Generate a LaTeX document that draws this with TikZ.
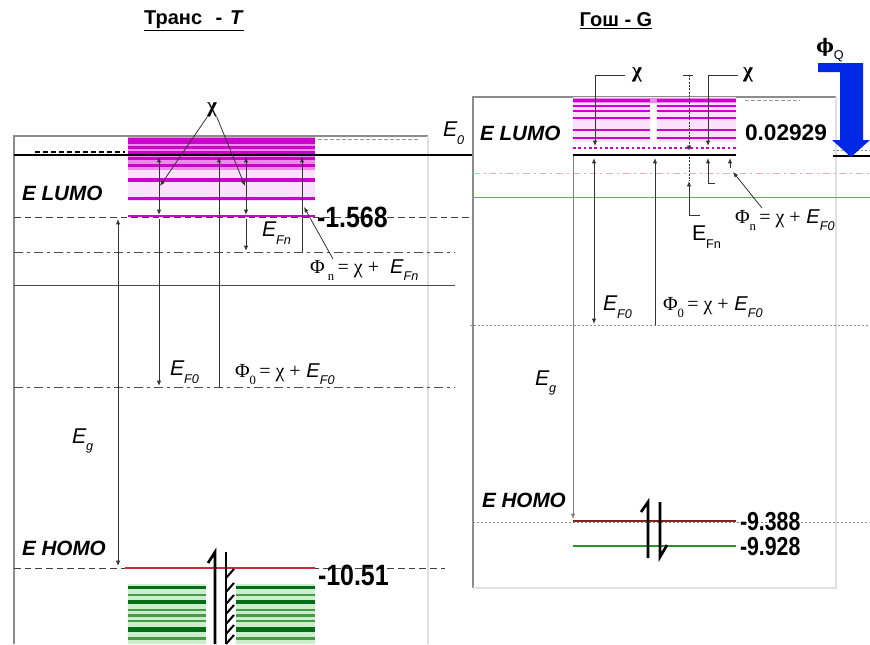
\documentclass[tikz,border=0pt]{standalone}
\usepackage{fontspec}
\setmainfont{Liberation Sans}
\newfontfamily\serf{Liberation Serif}
\newfontfamily\dvs{DejaVu Serif}
\usepackage{graphicx}
\usetikzlibrary{arrows.meta}
\definecolor{mag}{RGB}{205,0,205}
\definecolor{lmag}{RGB}{235,140,235}
\definecolor{pmag}{RGB}{252,225,252}
\definecolor{dgreen}{RGB}{0,110,20}
\definecolor{mgreen}{RGB}{70,155,70}
\definecolor{lgreen}{RGB}{205,238,205}
\definecolor{hred}{RGB}{205,40,60}
\definecolor{dred}{RGB}{130,35,30}
\definecolor{hgreen}{RGB}{40,150,40}
\definecolor{qblue}{RGB}{0,40,230}
\definecolor{pinkl}{RGB}{235,170,180}
\definecolor{salmon}{RGB}{205,120,90}
\newcommand\sbs[1]{\raisebox{-0.35em}{\fontsize{9.5}{9.5}\selectfont #1}}
\newcommand\narL[1]{\scalebox{0.85}[1]{\fontsize{22}{22}\selectfont\bfseries #1}}
\newcommand\narR[1]{\scalebox{0.82}[1]{\fontsize{19.5}{19.5}\selectfont\bfseries #1}}
\begin{document}
\begin{tikzpicture}[x=0.75pt,y=-0.75pt,
  every node/.style={inner sep=0pt, outer sep=0pt},
  ln/.style={line width=0.6pt, draw=black!80},
  ar/.style={ln, -{Latex[length=4pt,width=3.2pt]}},
  arr/.style={ln, {Latex[length=4pt,width=3.2pt]}-{Latex[length=4pt,width=3.2pt]}},
  e0line/.style={line width=2.2pt, black},
  dashln/.style={line width=0.6pt, black!75, dash pattern=on 5pt off 3pt},
  dashdot/.style={line width=0.6pt, black!70, dash pattern=on 7pt off 3pt on 2pt off 3pt},
  dotln/.style={line width=0.6pt, black!45, dash pattern=on 1.5pt off 1.5pt},
  border/.style={line width=1.5pt, black!45},
  faint/.style={line width=0.8pt, black!12},
  elec/.style={line width=2pt, black},
  lvl/.style={font=\fontsize{15.5}{15.5}\selectfont\bfseries\itshape, anchor=west},
  eq/.style={font=\fontsize{15}{15}\selectfont, anchor=west},
  ttl/.style={font=\fontsize{15}{15}\selectfont\bfseries},
  chi/.style={font=\fontsize{16}{16}\selectfont\serf\bfseries}
]
\useasboundingbox (0,0) rectangle (870,644);

% ---------------- titles
\node[ttl] (titleT) at (194,21) {\underline{Транс\hspace{10pt}-\hspace{6pt}\textit{T}}};
\node[ttl] (titleG) at (616,21) {\underline{Гош - G}};

% ---------------- left panel frame and levels
\draw[border] (14,644) -- (14,136) -- (428,136);
\draw[faint] (428,136) -- (428,644);
\fill[pmag] (128,137) rectangle (315,201);
\fill[lmag] (128,137) rectangle (315,170);
\foreach \a/\b in {138/144,146/149,151/154,157/160,164/167,178/182,197/200}
  \fill[mag] (128,\a) rectangle (315,\b);
\draw[e0line] (14,155) -- (473,155);
\draw[line width=0.8pt, black, dash pattern=on 4pt off 2pt] (35,152) -- (125,152);
\draw[line width=0.6pt, black!40, dash pattern=on 3pt off 1.5pt] (318,139) -- (420,139);
\draw[dashln] (14,217) -- (472,217);
\draw[line width=1.5pt, mag] (128,216) -- (315,216);
\draw[dashdot] (14,252) -- (455,252);
\draw[line width=0.6pt, black!70] (14,285) -- (455,285);
\draw[dashdot] (14,387) -- (455,387);
\draw[dashln] (14,568) -- (445,568);
\fill[lgreen] (128,584) rectangle (206,644);
\fill[lgreen] (236,584) rectangle (315,644);
\foreach \a/\b/\c in {586/589/dgreen,594/596/mgreen,600/604/dgreen,609/611/mgreen,614/617/mgreen,620/622/mgreen,627/632/dgreen,637/640/mgreen}{
  \fill[\c] (128,\a) rectangle (206,\b);
  \fill[\c] (236,\a) rectangle (315,\b);
}
\draw[line width=1.2pt, hred] (125,568) -- (315,568);

% electrons left
\draw[elec] (208,563) -- (215,552) -- (215,644);
\draw[elec] (226,552) -- (226,644);
\foreach \y in {578,592,604,614,624,634,644}
  \draw[line width=1.5pt] (226,\y) -- (234,\y-9);

% ---------------- left arrows
\coordinate (L1t) at (159,157); \coordinate (L1b) at (159,215);
\coordinate (L2t) at (159,219); \coordinate (L2b) at (159,386);
\coordinate (L3t) at (219,157); \coordinate (L3b) at (219,387);
\coordinate (L4t) at (246,157); \coordinate (L4b) at (246,215);
\coordinate (L5t) at (246,219); \coordinate (L5b) at (246,251);
\coordinate (L6t) at (302,157); \coordinate (L6b) at (302,252);
\coordinate (L7t) at (118,219); \coordinate (L7b) at (118,566);
\coordinate (cA) at (160,186); \coordinate (cB) at (245,186);
\coordinate (pn1) at (333,259); \coordinate (pn2) at (304,207);
\draw[arr] (L1t) -- (L1b);
\draw[ar] (L2t) -- (L2b);
\draw[ar] (L3b) -- (L3t);
\draw[arr] (L4t) -- (L4b);
\draw[ar] (L5t) -- (L5b);
\draw[ar] (L6b) -- (L6t);
\draw[arr] (L7t) -- (L7b);
\draw[ar] (pn1) -- (pn2);

% left texts
\node[chi] (chiL) at (212,110) {χ};
\draw[ar] (chiL.south west) -- (cA);
\draw[ar] (chiL.south east) -- (cB);
\node[font=\fontsize{16}{16}\selectfont\itshape, anchor=west] (E0) at (443,133) {E\sbs{0}};
\node[lvl] (LUMOL) at (22,193) {E LUMO};
\node[anchor=west] (n1568) at (317,217) {\narL{-1.568}};
\node[eq, font=\fontsize{16}{16}\selectfont\itshape] (EFnL) at (262,233) {E\sbs{Fn}};
\node[eq] (phinL) at (310,270) {{\serf Φ}\,\sbs{\serf n}\,{\serf = χ +}\ \ \textit{E}\sbs{\itshape Fn}};
\node[eq, font=\fontsize{16}{16}\selectfont\itshape] (EF0L) at (170,372) {E\sbs{F0}};
\node[eq] (phi0L) at (235,374) {{\serf Φ}\sbs{\serf 0}{\serf\,= χ +} \textit{E}\sbs{\itshape F0}};
\node[eq, font=\fontsize{16}{16}\selectfont\itshape] (EgL) at (72,441) {E\sbs{g}};
\node[lvl] (HOMOL) at (22,548) {E HOMO};
\node[anchor=west] (n1051) at (318,575) {\narL{-10.51}};

% ---------------- right panel frame and levels
\draw[border] (473,588) -- (473,97) -- (836,97);
\draw[faint] (836,97) -- (836,588) -- (473,588);
\draw[line width=0.6pt, black!40, dash pattern=on 3pt off 1.5pt] (745,100) -- (800,100);
\fill[pmag] (573,97) rectangle (736,142);
\fill[white] (650,104) rectangle (657,142);
\fill[lmag] (573,98) rectangle (736,103);
\foreach \a/\b in {99/102,105/107,110/112,117/119,129/131,137/139}{
  \fill[mag] (573,\a) rectangle (650,\b);
  \fill[mag] (657,\a) rectangle (736,\b);
}
\draw[line width=0.8pt, mag, dash pattern=on 2pt off 2pt] (573,148) -- (736,148);
\draw[dotln] (833,150) -- (870,150);
\draw[e0line] (573,155) -- (736,155);
\draw[e0line] (833,156) -- (870,156);
\draw[line width=0.6pt, pinkl, dash pattern=on 5pt off 3pt on 1.5pt off 3pt] (473,173) -- (870,173);
\draw[line width=0.6pt, salmon] (473,197) -- (870,197);
\draw[dotln] (470,325) -- (870,325);
\draw[dotln] (473,522) -- (870,522);
\draw[line width=1.3pt, dred] (573,521) -- (736,521);
\draw[line width=1pt, hgreen] (573,546) -- (736,546);

% electrons right
\draw[elec] (641,512) -- (648,502) -- (648,558);
\draw[elec] (660,502) -- (660,557) -- (667,545);

% blue arrow
\fill[qblue] (818,63) -- (863,63) -- (863,140) -- (870,140) -- (851,157) -- (832,140) -- (840,140) -- (840,72) -- (818,72) -- cycle;

% ---------------- right arrows
\coordinate (b1a) at (625,75); \coordinate (b1b) at (595,75); \coordinate (b1c) at (595,146);
\coordinate (b2a) at (738,75); \coordinate (b2b) at (708,75); \coordinate (b2c) at (708,146);
\coordinate (R1t) at (594,158); \coordinate (R1b) at (594,324);
\coordinate (R2a) at (715,183); \coordinate (R2b) at (708,183); \coordinate (R2c) at (708,158);
\coordinate (R3a) at (683,75); \coordinate (R3z) at (693,75);
\coordinate (R3t) at (689,75); \coordinate (R3u) at (689,151);
\coordinate (R3m) at (689,157); \coordinate (R3n) at (689,181);
\coordinate (R3e) at (700,215); \coordinate (R3f) at (689,215);
\coordinate (R4t) at (655,158); \coordinate (R4b) at (655,325);
\coordinate (R5t) at (573,156); \coordinate (R5b) at (573,519);
\coordinate (R6a) at (730,168); \coordinate (R6b) at (730,158);
\coordinate (R7a) at (762,208); \coordinate (R7b) at (733,172);
\draw[ar] (b1a) -- (b1b) -- (b1c);
\draw[ar] (b2a) -- (b2b) -- (b2c);
\draw[arr] (R1t) -- (R1b);
\draw[ar] (R2a) -- (R2b) -- (R2c);
\draw[ln] (R3a) -- (R3z);
\draw[ar, dash pattern=on 1.5pt off 1pt] (R3t) -- (R3u);
\draw[ln, dash pattern=on 1.5pt off 1pt] (R3m) -- (R3n);
\draw[ar] (R3e) -- (R3f) -- (R3n);
\draw[ar] (R4b) -- (R4t);
\draw[ar, draw=black!50] (R5t) -- (R5b);
\draw[ar] (R6a) -- (R6b);
\draw[ar] (R7a) -- (R7b);

% right texts
\node[font=\fontsize{14}{14}\selectfont] (phiQ) at (830,50) {{\dvs\bfseries ϕ}\sbs{Q}};
\node[chi] (chiR1) at (637,75) {χ};
\node[chi] (chiR2) at (748,75) {χ};
\node[lvl] (LUMOR) at (480,133) {E LUMO};
\node[anchor=west, font=\fontsize{17}{17}\selectfont\bfseries] (n002) at (745,133) {0.02929};
\node[eq] (phinR) at (735,220) {{\serf Φ}\sbs{\serf n}\,{\serf = χ +} \textit{E}\sbs{\itshape F0}};
\node[eq, font=\fontsize{16}{16}\selectfont] (EFnR) at (692,237) {E\sbs{Fn}};
\node[eq, font=\fontsize{16}{16}\selectfont\itshape] (EF0R) at (603,307) {E\sbs{F0}};
\node[eq] (phi0R) at (663,307) {{\serf Φ}\sbs{\serf 0}{\serf\,= χ +} \textit{E}\sbs{\itshape F0}};
\node[eq, font=\fontsize{16}{16}\selectfont\itshape] (EgR) at (535,383) {E\sbs{g}};
\node[lvl] (HOMOR) at (482,500) {E HOMO};
\node[anchor=west] (n9388) at (740,522) {\narR{-9.388}};
\node[anchor=west] (n9928) at (740,547) {\narR{-9.928}};
\end{tikzpicture}
\end{document}
